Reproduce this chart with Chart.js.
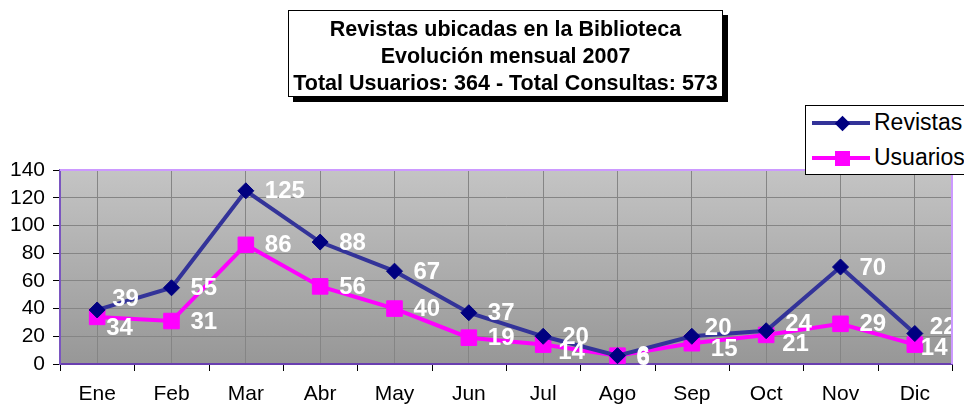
<!DOCTYPE html>
<html>
<head>
<meta charset="utf-8">
<script src="https://cdn.jsdelivr.net/npm/chart.js@4/dist/chart.umd.min.js"></script>
<style>
  body { margin: 0; background: #fff; font-family: Arial, "Liberation Sans", sans-serif; }
  #wrap { position: relative; width: 964px; height: 405px; overflow: hidden; }
  #title-box {
    position: absolute; left: 288px; top: 10px; width: 435px; height: 87px;
    border: 1px solid #000; background: #fff; box-shadow: 5px 5px 0 #000;
    text-align: center; font-weight: bold; font-size: 21.5px; line-height: 27px;
    padding-top: 5px; box-sizing: border-box; z-index: 2; white-space: nowrap;
  }
  #legend-box {
    position: absolute; left: 805px; top: 105px; width: 175px; height: 70px;
    border: 1px solid #000; background: #fff; box-sizing: border-box; z-index: 2;
  }
  .leg-row { position: absolute; left: 0; height: 30px; width: 175px; }
  .leg-line { position: absolute; left: 6px; width: 58px; height: 4px; top: 13px; }
  .leg-text { position: absolute; left: 68px; top: 1px; font-size: 23px; white-space: nowrap; }
  .diamond { position: absolute; left: 30.5px; top: 9.5px; width: 11px; height: 11px; background: #000080; transform: rotate(45deg); }
  .square { position: absolute; left: 28.5px; top: 7.5px; width: 15px; height: 15px; background: #ff00ff; }
</style>
</head>
<body>
<div id="wrap">
  <canvas id="chart" width="964" height="405"></canvas>
  <div id="title-box">
    Revistas ubicadas en la Biblioteca<br>
    Evolución mensual 2007<br>
    Total Usuarios: 364 - Total Consultas: 573
  </div>
  <div id="legend-box">
    <div class="leg-row" style="top:2px">
      <div class="leg-line" style="background:#333399"></div>
      <div class="diamond"></div>
      <div class="leg-text">Revistas</div>
    </div>
    <div class="leg-row" style="top:37px">
      <div class="leg-line" style="background:#ff00ff"></div>
      <div class="square"></div>
      <div class="leg-text">Usuarios</div>
    </div>
  </div>
</div>
<script>
const months = ['Ene', 'Feb', 'Mar', 'Abr', 'May', 'Jun', 'Jul', 'Ago', 'Sep', 'Oct', 'Nov', 'Dic'];
const revistas = [39, 55, 125, 88, 67, 37, 20, 6, 20, 24, 70, 22];
const usuarios = [34, 31, 86, 56, 40, 19, 14, 6, 15, 21, 29, 14];
const yTicks = [0, 20, 40, 60, 80, 100, 120, 140];

// hand-moved value labels (pixel nudges from the default right-of-point spot)
const revLabelShift = [[-4, -12], [0, 0], [0, 0], [0, 0], [0, 0], [0, 0], [0, 0], [0, 0], [-6, -9], [0, -7], [0, 0], [-4, -7]];
const usuLabelShift = [[-10, 10], [0, 0], [0, 0], [0, 0], [0, 0], [0, 0], [-4, 7], [0, 2], [0, 5], [-3, 8], [0, 0], [-13, 3]];

const FONT = 'Arial, "Liberation Sans", sans-serif';

// gradient background + borders of the plot area
const plotBg = {
    id: 'plotBg',
    beforeDraw(chart) {
        const { ctx, chartArea: a } = chart;
        const g = ctx.createLinearGradient(0, a.top, 0, a.bottom);
        g.addColorStop(0, '#c4c4c4');
        g.addColorStop(1, '#979797');
        ctx.save();
        ctx.fillStyle = g;
        ctx.fillRect(a.left, a.top, a.right - a.left, a.bottom - a.top);
        ctx.restore();
    },
    afterDraw(chart) {
        const { ctx, chartArea: a } = chart;
        const x = chart.scales.x;
        ctx.save();
        ctx.strokeStyle = '#cc99ff';
        ctx.lineWidth = 2;
        ctx.beginPath();
        ctx.moveTo(a.left, a.top);
        ctx.lineTo(a.right, a.top);
        ctx.lineTo(a.right, a.bottom);
        ctx.stroke();
        // ticks between categories on the bottom axis
        ctx.strokeStyle = '#000';
        ctx.lineWidth = 1;
        const step = x.getPixelForValue(1) - x.getPixelForValue(0);
        ctx.beginPath();
        for (let i = 0; i <= months.length; i++) {
            const px = Math.round(x.getPixelForValue(i) - step / 2) + 0.5;
            ctx.moveTo(px, a.bottom + 1);
            ctx.lineTo(px, a.bottom + 7);
        }
        ctx.stroke();
        ctx.restore();
    }
};

// white bold value labels to the right of each point
const valueLabels = {
    id: 'valueLabels',
    afterDatasetsDraw(chart) {
        const { ctx } = chart;
        const shifts = [revLabelShift, usuLabelShift];
        ctx.save();
        ctx.font = 'bold 24px ' + FONT;
        ctx.fillStyle = '#fff';
        ctx.textAlign = 'left';
        ctx.textBaseline = 'middle';
        chart.data.datasets.forEach((ds, di) => {
            const meta = chart.getDatasetMeta(di);
            meta.data.forEach((pt, i) => {
                const [dx, dy] = shifts[di][i];
                ctx.fillText(String(ds.data[i]), pt.x + 19 + dx, pt.y + 1 + dy);
            });
        });
        ctx.restore();
    }
};

new Chart(document.getElementById('chart'), {
    type: 'line',
    data: {
        labels: months,
        datasets: [
            {
                label: 'Revistas',
                data: revistas,
                borderColor: '#333399',
                borderWidth: 4,
                pointStyle: 'rectRot',
                pointRadius: 8,
                pointBackgroundColor: '#000080',
                pointBorderColor: '#000080',
                pointBorderWidth: 1,
                tension: 0
            },
            {
                label: 'Usuarios',
                data: usuarios,
                borderColor: '#ff00ff',
                borderWidth: 4,
                pointStyle: 'rect',
                pointRadius: 11,
                pointBackgroundColor: '#ff00ff',
                pointBorderColor: '#ff00ff',
                pointBorderWidth: 1,
                tension: 0
            }
        ]
    },
    options: {
        responsive: false,
        animation: false,
        layout: { padding: { top: 170, right: 4, left: 0, bottom: 0 } },
        plugins: {
            legend: { display: false },
            title: { display: false },
            tooltip: { enabled: false }
        },
        scales: {
            x: {
                offset: true,
                grid: { offset: false, color: '#858585', drawTicks: false },
                border: { color: '#6a3fb0', width: 2 },
                ticks: { color: '#000', font: { family: FONT, size: 21 }, padding: 18, maxRotation: 0, autoSkip: false },
                afterFit(s) { s.height = 41; }
            },
            y: {
                min: 0,
                max: 140,
                afterBuildTicks(s) { s.ticks = yTicks.map(v => ({ value: v })); },
                grid: { color: '#858585', tickColor: '#000', tickLength: 7 },
                border: { color: '#7a55c0', width: 2 },
                ticks: { color: '#000', font: { family: FONT, size: 21 }, padding: 8, autoSkip: false },
                afterFit(s) { s.width = 60; }
            }
        }
    },
    plugins: [plotBg, valueLabels]
});
</script>
</body>
</html>
